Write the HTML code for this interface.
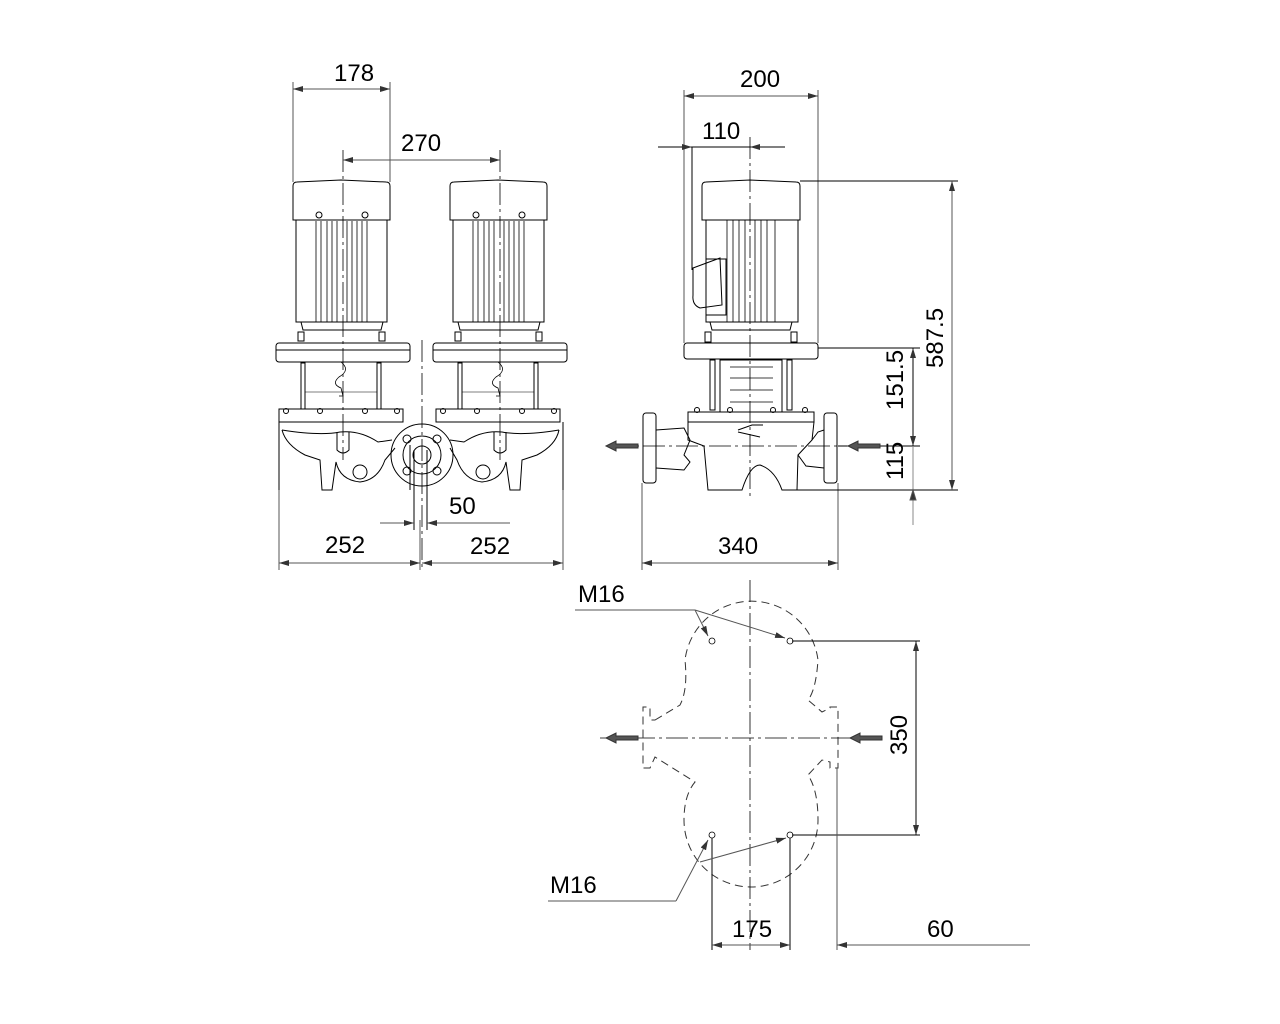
<!DOCTYPE html>
<html><head><meta charset="utf-8"><style>
html,body{margin:0;padding:0;background:#fff;}
svg{display:block}
text{font-family:"Liberation Sans",sans-serif;font-size:24px;fill:#000}
</style></head><body>
<svg width="1280" height="1024" viewBox="0 0 1280 1024" xmlns="http://www.w3.org/2000/svg">
<defs>
<marker id="ar" viewBox="0 0 10 6" refX="10" refY="3" markerWidth="10" markerHeight="6" markerUnits="userSpaceOnUse" orient="auto-start-reverse"><path d="M0,0 L10,3 L0,6 Z" fill="#333"/></marker>
<g id="motor">
 <path d="M0,4 Q0,0 4,0 L48,-2 L93,0 Q97,0 97,4 L97,38 L0,38 Z" fill="none" stroke="#000"/>
 <rect x="3" y="38" width="91" height="102" fill="none" stroke="#000"/>
 <circle cx="26" cy="33" r="3" fill="none" stroke="#000"/><circle cx="72" cy="33" r="3" fill="none" stroke="#000"/>
 <g stroke="#000" stroke-width="0.8"><line x1="23" y1="39" x2="23" y2="140"/><line x1="28" y1="39" x2="28" y2="140"/><line x1="34" y1="39" x2="34" y2="140"/><line x1="39" y1="39" x2="39" y2="140"/><line x1="44" y1="39" x2="44" y2="140"/><line x1="54" y1="39" x2="54" y2="140"/><line x1="59" y1="39" x2="59" y2="140"/><line x1="64" y1="39" x2="64" y2="140"/><line x1="69" y1="39" x2="69" y2="140"/><line x1="74" y1="39" x2="74" y2="140"/></g>
 <path d="M8,140 L10,148 L88,148 L90,140" fill="none" stroke="#000"/>
 <rect x="5" y="150" width="6" height="9" fill="none" stroke="#000"/><rect x="86" y="150" width="6" height="9" fill="none" stroke="#000"/>
 <rect x="-17" y="161" width="134" height="19" rx="3" fill="none" stroke="#000"/>
 <line x1="-17" y1="168" x2="117" y2="168" stroke="#000"/>
 <rect x="8" y="181" width="4" height="46" fill="none" stroke="#000"/><rect x="84" y="181" width="4" height="46" fill="none" stroke="#000"/>
 <line x1="12" y1="210" x2="84" y2="210" stroke="#000" stroke-width="0.6"/>
 <path d="M48,180 Q58,188 46,195 Q38,202 48,206 L50,214 L46,214" fill="none" stroke="#000" stroke-width="0.8"/>
 <rect x="-14" y="227" width="124" height="13" fill="none" stroke="#000"/>
 <g fill="none" stroke="#000"><circle cx="-7" cy="229" r="2.5"/><circle cx="27" cy="229" r="2.5"/><circle cx="72" cy="229" r="2.5"/><circle cx="104" cy="229" r="2.5"/></g>
</g>
</defs>
<g fill="none" stroke="#000" stroke-width="1">
<use href="#motor" x="293" y="182"/>
<use href="#motor" x="450" y="182"/>
<path d="M279,422 L279,490 M563,422 L563,490" />
<path d="M282,430 Q286,445 305,455 L320,460 L322,490 L332,490 L336,462 Q340,480 360,482 Q378,480 385,460 L395,448" />
<path d="M559,430 Q556,445 537,455 L522,460 L520,490 L510,490 L506,462 Q502,480 482,482 Q464,480 457,460 L450,448" />
<path d="M282,430 Q320,436 340,432 Q360,430 378,442 L392,440 M450,440 L464,442 Q482,430 502,432 Q522,436 559,430"/>
<circle cx="360" cy="472" r="7"/><circle cx="483" cy="472" r="7"/>
<path d="M337,432 L337,450 Q343,456 349,450 L349,432"/><path d="M494,432 L494,450 Q500,456 506,450 L506,432"/>
<circle cx="422" cy="455" r="31"/><circle cx="422" cy="455" r="19"/><circle cx="422" cy="455" r="9"/>
<g><circle cx="407" cy="439" r="4"/><circle cx="437" cy="439" r="4"/><circle cx="407" cy="471" r="4"/><circle cx="437" cy="471" r="4"/></g>
<path d="M414,450 L414,530 M427,450 L427,530 M410,445 L410,490"/>
<!-- side view -->
<path d="M702,186 Q702,182 706,182 L750,180 L796,182 Q800,182 800,186 L800,220 L702,220 Z"/>
<rect x="706" y="220" width="92" height="102"/>
<path d="M693,268 L720,258 L722,305 L700,308 Q692,305 693,295 Z"/><rect x="706" y="259" width="20" height="56"/>
<g stroke-width="0.8"><line x1="727" y1="220" x2="727" y2="322"/><line x1="733" y1="220" x2="733" y2="322"/><line x1="739" y1="220" x2="739" y2="322"/><line x1="745" y1="220" x2="745" y2="322"/><line x1="755" y1="220" x2="755" y2="322"/><line x1="761" y1="220" x2="761" y2="322"/><line x1="767" y1="220" x2="767" y2="322"/><line x1="775" y1="220" x2="775" y2="322"/></g>
<path d="M710,322 L712,330 L790,330 L792,322"/>
<rect x="705" y="332" width="6" height="10"/><rect x="791" y="332" width="6" height="10"/>
<rect x="684" y="343" width="134" height="16" rx="3"/>
<rect x="710" y="360" width="5" height="50"/><rect x="787" y="360" width="5" height="50"/>
<rect x="720" y="360" width="62" height="52"/>
<path d="M730,367 L773,367 M730,378 L773,378 M730,390 L773,390 M730,402 L773,402" stroke-width="0.8"/>
<rect x="688" y="412" width="126" height="10"/>
<g><circle cx="697" cy="410" r="2.5"/><circle cx="730" cy="410" r="2.5"/><circle cx="773" cy="410" r="2.5"/><circle cx="805" cy="410" r="2.5"/></g>
<path d="M688,422 L688,440 L704,446 L708,490 L742,490 Q750,465 760,465 Q775,470 782,490 L797,490 L798,455 L812,440 L814,422"/>
<rect x="643" y="413" width="13" height="70" rx="3"/>
<path d="M656,430 L684,428 L690,440 L684,455 L690,462 L684,470 L656,468"/>
<rect x="824" y="413" width="13" height="70" rx="3"/>
<path d="M812,440 L818,432 L824,430 M798,455 L806,466 L824,468"/>
<path d="M738,430 L752,425 L763,425 M738,432 L760,437"/>
<!-- bottom view dashed outline -->
<path stroke="#333" stroke-dasharray="8,5" d="M655,720 L680,705 Q688,690 685,660 A67,67 0 0 1 818,660 Q816,690 808,700 L822,712 L830,708 L830,707 L838,707 L838,768 L830,768 L830,762 L822,760 L808,775 Q818,790 818,820 A67,67 0 0 1 684,820 Q684,795 695,782 L655,757 L650,768 L643,768 L643,707 L650,707 L650,720 Z"/>
<g stroke-width="0.8"><circle cx="712" cy="641" r="3"/><circle cx="790" cy="641" r="3"/><circle cx="712" cy="835" r="3"/><circle cx="790" cy="835" r="3"/></g>
</g>
<g stroke="#000" stroke-width="0.8" stroke-dasharray="22,4,3,4" fill="none">
<line x1="343" y1="150" x2="343" y2="460"/>
<line x1="500" y1="150" x2="500" y2="460"/>
<line x1="422" y1="340" x2="422" y2="568"/>
<line x1="750" y1="137" x2="750" y2="500"/>
<line x1="750" y1="580" x2="750" y2="950"/>
<line x1="600" y1="738" x2="860" y2="738"/>
<line x1="610" y1="446" x2="860" y2="446"/>
</g>
<g stroke="#555" stroke-width="1" fill="none">
<line x1="293" y1="82" x2="293" y2="182"/><line x1="390" y1="82" x2="390" y2="182"/>
<line x1="293" y1="89" x2="390" y2="89" marker-start="url(#ar)" marker-end="url(#ar)"/>
<line x1="343" y1="160" x2="500" y2="160" marker-start="url(#ar)" marker-end="url(#ar)"/>
<line x1="279" y1="490" x2="279" y2="570"/><line x1="563" y1="490" x2="563" y2="570"/><line x1="420" y1="520" x2="420" y2="570"/>
<line x1="279" y1="563" x2="420" y2="563" marker-start="url(#ar)" marker-end="url(#ar)"/>
<line x1="422" y1="563" x2="563" y2="563" marker-start="url(#ar)" marker-end="url(#ar)"/>
<line x1="380" y1="523" x2="414" y2="523" marker-end="url(#ar)"/>
<line x1="510" y1="523" x2="427" y2="523" marker-end="url(#ar)"/>
<line x1="684" y1="90" x2="684" y2="343"/><line x1="818" y1="90" x2="818" y2="343"/>
<line x1="684" y1="96" x2="818" y2="96" marker-start="url(#ar)" marker-end="url(#ar)"/>
<line x1="658" y1="147" x2="692" y2="147" stroke="#000" marker-end="url(#ar)"/>
<line x1="785" y1="147" x2="750" y2="147" stroke="#000" marker-end="url(#ar)"/>
<line x1="692" y1="147" x2="750" y2="147" stroke="#000"/>
<line x1="692" y1="147" x2="692" y2="270" stroke="#000"/>
<line x1="642" y1="483" x2="642" y2="570"/><line x1="838" y1="483" x2="838" y2="570"/>
<line x1="642" y1="563" x2="838" y2="563" marker-start="url(#ar)" marker-end="url(#ar)"/>
<line x1="800" y1="181" x2="958" y2="181" stroke="#000"/>
<line x1="818" y1="348" x2="920" y2="348" stroke="#000"/>
<line x1="782" y1="490" x2="958" y2="490" stroke="#000"/>
<line x1="838" y1="446" x2="920" y2="446" stroke="#000"/>
<line x1="952" y1="181" x2="952" y2="490" marker-start="url(#ar)" marker-end="url(#ar)"/>
<line x1="913" y1="348" x2="913" y2="446" stroke="#000" marker-start="url(#ar)" marker-end="url(#ar)"/>
<line x1="913" y1="446" x2="913" y2="525" stroke="#888"/>
<path d="M913,490 l-3,10 l6,0 z" fill="#333"/>
<line x1="792" y1="641" x2="920" y2="641" stroke="#000"/>
<line x1="792" y1="835" x2="920" y2="835" stroke="#000"/>
<line x1="916" y1="641" x2="916" y2="835" stroke="#000" marker-start="url(#ar)" marker-end="url(#ar)"/>
<line x1="712" y1="838" x2="712" y2="950" stroke="#000"/><line x1="790" y1="838" x2="790" y2="950" stroke="#000"/><line x1="837" y1="768" x2="837" y2="950"/>
<line x1="712" y1="945" x2="790" y2="945" marker-start="url(#ar)" marker-end="url(#ar)"/>
<line x1="1030" y1="945" x2="837" y2="945" marker-end="url(#ar)"/>
<line x1="575" y1="610" x2="695" y2="610"/>
<line x1="695" y1="610" x2="785" y2="638" marker-end="url(#ar)"/>
<line x1="695" y1="610" x2="708" y2="636" marker-end="url(#ar)"/>
<line x1="548" y1="901" x2="676" y2="901"/>
<line x1="676" y1="901" x2="708" y2="840" marker-end="url(#ar)"/>
<line x1="700" y1="862" x2="786" y2="838" marker-end="url(#ar)"/>
</g>
<g fill="#555" stroke="#333">
<path d="M606,446 l10,-5 l0,3 l22,0 l0,4 l-22,0 l0,3 z"/>
<path d="M848,446 l10,-5 l0,3 l22,0 l0,4 l-22,0 l0,3 z"/>
<path d="M606,738 l10,-5 l0,3 l22,0 l0,4 l-22,0 l0,3 z"/>
<path d="M850,738 l10,-5 l0,3 l22,0 l0,4 l-22,0 l0,3 z"/>
</g>
<text x="334" y="81">178</text>
<text x="401" y="151">270</text>
<text x="449" y="514">50</text>
<text x="325" y="553">252</text>
<text x="470" y="554">252</text>
<text x="740" y="87">200</text>
<text x="702" y="139">110</text>
<text x="718" y="554">340</text>
<text x="578" y="602">M16</text>
<text x="550" y="893">M16</text>
<text x="732" y="937">175</text>
<text x="927" y="937">60</text>
<text transform="translate(943,368) rotate(-90)">587.5</text>
<text transform="translate(903,410) rotate(-90)">151.5</text>
<text transform="translate(903,480) rotate(-90)">115</text>
<text transform="translate(907,755) rotate(-90)">350</text>
</svg>
</body></html>
